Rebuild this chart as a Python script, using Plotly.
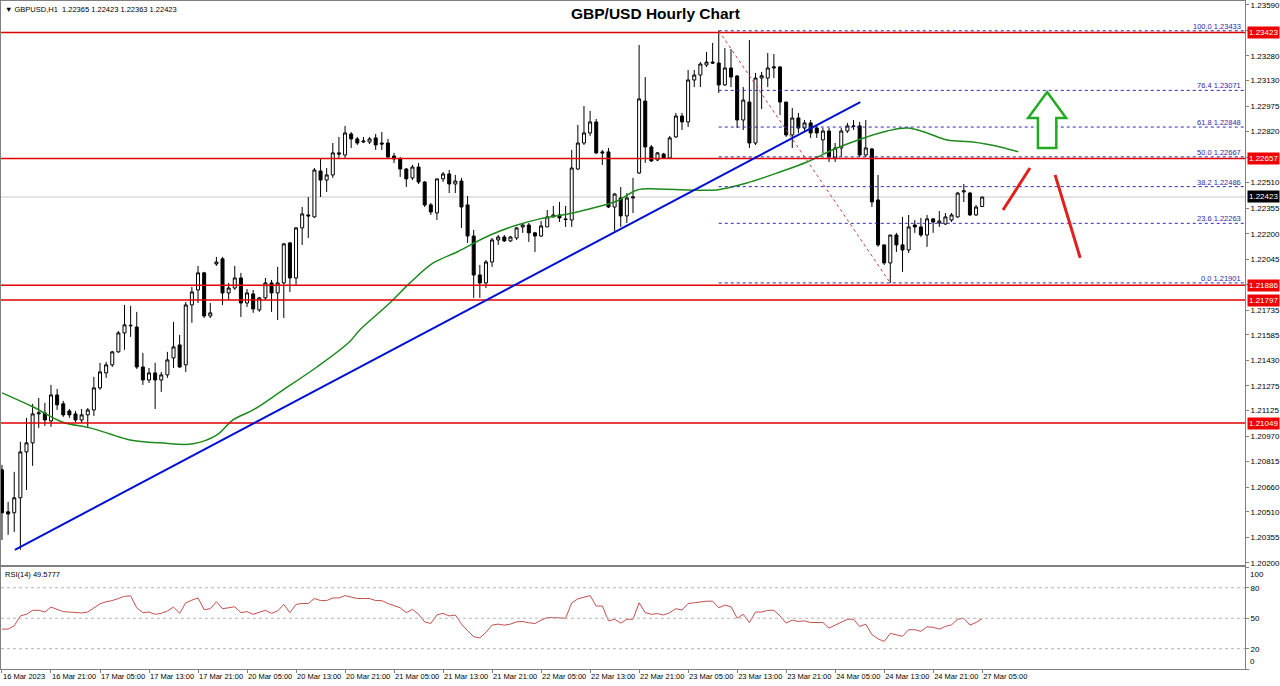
import plotly.graph_objects as go

# ---------------- data ----------------
opens = [1.20765,1.20510,1.20504,1.20595,1.20874,1.20929,1.21105,1.21111,1.21062,1.21220,
1.21166,1.21123,1.21105,1.21068,1.21099,1.21129,1.21263,1.21354,1.21403,1.21482,
1.21597,1.21640,1.21633,1.21390,1.21311,1.21354,1.21311,1.21342,1.21445,1.21524,
1.21403,1.21767,1.21858,1.21962,1.21700,1.22016,1.22047,1.21840,1.21870,1.21931,
1.21779,1.21834,1.21737,1.21810,1.21901,1.21840,1.21901,1.22144,1.21931,1.22235,
1.22314,1.22302,1.22581,1.22526,1.22557,1.22691,1.22678,1.22806,1.22776,1.22757,
1.22757,1.22782,1.22751,1.22751,1.22672,1.22654,1.22593,1.22539,1.22605,1.22514,
1.22375,1.22326,1.22533,1.22563,1.22502,1.22520,1.22375,1.22186,1.21949,1.21901,
1.22028,1.22162,1.22180,1.22156,1.22174,1.22241,1.22253,1.22205,1.22186,1.22241,
1.22302,1.22314,1.22290,1.22283,1.22593,1.22751,1.22812,1.22879,1.22697,1.22697,
1.22362,1.22417,1.22308,1.22417,1.22569,1.23006,1.22727,1.22648,1.22684,1.22660,
1.22788,1.22915,1.22879,1.23134,1.23164,1.23225,1.23243,1.23237,1.23104,1.23207,
1.23158,1.22891,1.23000,1.22751,1.23146,1.23146,1.23207,1.23213,1.23000,1.22800,
1.22903,1.22842,1.22873,1.22842,1.22770,1.22824,1.22660,1.22721,1.22824,1.22855,
1.22855,1.22678,1.22715,1.22405,1.22132,1.22022,1.22192,1.22132,1.22101,1.22253,
1.22241,1.22192,1.22290,1.22265,1.22259,1.22283,1.22302,1.22454,1.22447,1.22314,
1.22365]
highs = [1.20795,1.20570,1.20753,1.20935,1.21081,1.21166,1.21202,1.21172,1.21281,1.21257,
1.21184,1.21135,1.21123,1.21135,1.21141,1.21330,1.21415,1.21421,1.21488,1.21609,
1.21767,1.21761,1.21725,1.21476,1.21384,1.21415,1.21360,1.21482,1.21664,1.21585,
1.21785,1.21876,1.22004,1.21968,1.21779,1.22059,1.22059,1.21901,1.22004,1.21962,
1.21864,1.21858,1.21816,1.21931,1.21919,1.21998,1.22144,1.22150,1.22241,1.22362,
1.22423,1.22599,1.22660,1.22599,1.22751,1.22788,1.22855,1.22818,1.22788,1.22788,
1.22788,1.22806,1.22818,1.22776,1.22691,1.22666,1.22599,1.22618,1.22630,1.22520,
1.22387,1.22533,1.22575,1.22587,1.22557,1.22539,1.22429,1.22223,1.22010,1.22040,
1.22174,1.22192,1.22192,1.22186,1.22241,1.22265,1.22265,1.22211,1.22277,1.22344,
1.22369,1.22393,1.22369,1.22709,1.22861,1.22976,1.22946,1.22897,1.22709,1.22721,
1.22447,1.22484,1.22447,1.22539,1.23347,1.23152,1.22739,1.22697,1.22691,1.22794,
1.22934,1.22934,1.23195,1.23195,1.23243,1.23304,1.23359,1.23433,1.23328,1.23322,
1.23164,1.23091,1.23377,1.23177,1.23183,1.23298,1.23292,1.23219,1.23000,1.22964,
1.22934,1.22891,1.22891,1.22861,1.22842,1.22842,1.22751,1.22842,1.22873,1.22891,
1.22879,1.22891,1.22721,1.22557,1.22132,1.22192,1.22205,1.22302,1.22314,1.22283,
1.22296,1.22314,1.22296,1.22338,1.22326,1.22326,1.22454,1.22502,1.22454,1.22375,
1.22423]
lows = [1.20339,1.20370,1.20388,1.20279,1.20643,1.20789,1.21020,1.21032,1.21026,1.21129,
1.21087,1.21081,1.21056,1.21050,1.21026,1.21093,1.21251,1.21324,1.21390,1.21476,
1.21494,1.21573,1.21378,1.21281,1.21293,1.21135,1.21239,1.21324,1.21384,1.21384,
1.21360,1.21658,1.21779,1.21688,1.21688,1.22004,1.21767,1.21797,1.21858,1.21694,
1.21755,1.21719,1.21725,1.21797,1.21725,1.21676,1.21688,1.21846,1.21889,1.22132,
1.22174,1.22296,1.22423,1.22454,1.22539,1.22660,1.22654,1.22721,1.22739,1.22751,
1.22745,1.22709,1.22709,1.22660,1.22630,1.22545,1.22484,1.22526,1.22502,1.22362,
1.22314,1.22283,1.22514,1.22447,1.22447,1.22235,1.22144,1.21810,1.21810,1.21870,
1.21998,1.22132,1.22150,1.22150,1.22162,1.22205,1.22150,1.22089,1.22180,1.22241,
1.22299,1.22271,1.22241,1.22241,1.22587,1.22739,1.22794,1.22684,1.22618,1.22356,
1.22217,1.22241,1.22265,1.22326,1.22563,1.22630,1.22636,1.22642,1.22654,1.22654,
1.22782,1.22830,1.22848,1.23091,1.23091,1.23213,1.23231,1.23055,1.23098,1.23091,
1.22842,1.22830,1.22721,1.22739,1.22958,1.23091,1.23146,1.22921,1.22788,1.22721,
1.22812,1.22818,1.22782,1.22782,1.22688,1.22636,1.22636,1.22666,1.22812,1.22830,
1.22666,1.22666,1.22362,1.22120,1.22010,1.21901,1.22089,1.21968,1.22083,1.22205,
1.22180,1.22120,1.22205,1.22241,1.22253,1.22271,1.22296,1.22393,1.22308,1.22308,
1.22363]
closes = [1.20504,1.20497,1.20595,1.20874,1.20929,1.21105,1.21111,1.21068,1.21220,1.21160,
1.21099,1.21099,1.21068,1.21099,1.21129,1.21263,1.21360,1.21403,1.21482,1.21597,
1.21646,1.21643,1.21390,1.21311,1.21354,1.21311,1.21342,1.21433,1.21512,1.21390,
1.21767,1.21846,1.21962,1.21700,1.21719,1.22028,1.21840,1.21870,1.21931,1.21779,
1.21840,1.21743,1.21810,1.21901,1.21840,1.21901,1.22138,1.21931,1.22235,1.22320,
1.22308,1.22587,1.22526,1.22557,1.22691,1.22684,1.22812,1.22776,1.22751,1.22763,
1.22776,1.22739,1.22745,1.22666,1.22654,1.22593,1.22533,1.22605,1.22514,1.22375,
1.22332,1.22533,1.22563,1.22502,1.22520,1.22362,1.22186,1.21949,1.21901,1.22028,
1.22162,1.22180,1.22156,1.22180,1.22235,1.22253,1.22205,1.22186,1.22247,1.22302,
1.22314,1.22296,1.22286,1.22599,1.22751,1.22812,1.22879,1.22691,1.22691,1.22362,
1.22441,1.22308,1.22417,1.22423,1.23019,1.22727,1.22642,1.22691,1.22660,1.22782,
1.22915,1.22879,1.23134,1.23164,1.23231,1.23243,1.23237,1.23104,1.23207,1.23152,
1.22891,1.23012,1.22751,1.23146,1.23160,1.23207,1.23213,1.23000,1.22800,1.22903,
1.22842,1.22873,1.22812,1.22812,1.22824,1.22666,1.22721,1.22824,1.22855,1.22852,
1.22678,1.22721,1.22393,1.22132,1.22022,1.22192,1.22132,1.22101,1.22241,1.22241,
1.22192,1.22290,1.22271,1.22277,1.22302,1.22314,1.22447,1.22460,1.22314,1.22362,
1.22423]

rsi = [39.3,39.3,42.6,52.3,53.9,57.8,57.8,56.1,61.0,58.7,
56.5,56.1,55.5,55.2,56.1,60.3,64.2,66.2,67.4,69.4,
71.6,72.0,60.3,55.5,56.1,53.9,54.8,57.1,61.0,54.8,
65.2,67.8,70.0,58.4,59.4,66.2,59.4,60.3,61.3,55.5,
56.5,53.9,55.5,57.8,54.8,57.1,63.6,55.5,63.6,64.5,
64.5,69.4,67.4,67.4,70.0,70.0,72.3,71.0,69.4,69.4,
69.4,67.4,67.4,64.5,62.6,60.3,55.5,58.7,53.9,46.4,
44.8,53.2,54.8,52.3,53.2,44.2,37.7,31.9,30.6,36.1,
43.2,44.2,43.2,44.2,46.4,46.8,45.5,44.8,48.1,50.6,
50.6,50.3,50.0,65.2,69.1,70.7,72.3,62.0,62.0,47.4,
49.0,45.2,49.0,49.0,65.2,
55.5,53.9,54.5,53.2,55.5,59.4,58.1,64.5,65.2,66.2,
66.8,66.8,60.3,62.9,61.3,50.0,53.9,45.8,56.1,56.1,
57.8,57.8,52.3,45.2,48.1,46.8,47.4,45.8,45.8,45.8,
40.3,43.2,46.8,49.0,49.0,41.9,44.2,33.9,29.7,27.1,
35.1,33.9,32.2,38.7,38.7,37.1,41.6,41.0,39.3,41.9,
43.5,49.0,50.0,43.2,45.8,49.58]

# moving average, bar position / price
ma_bar = [0,5.1,9.8,14.4,17.6,20.9,25.8,31.2,35.1,37.7,41.0,45.9,51.4,56.7,58.4,63.3,66.6,70.4,
          74.3,79.7,84.1,87.8,93.2,97.1,100.4,103.7,106.9,112.3,116.7,121.6,127.0,131.4,136.3,
          141.2,144.5,147.8,151.0,154.3,158.5,162.9,165.9]
ma_val = [1.21233,1.21147,1.21056,1.21020,1.20983,1.20947,1.20929,1.20923,1.20977,1.21068,
          1.21129,1.21251,1.21390,1.21542,1.21615,1.21779,1.21901,1.22022,1.22089,1.22192,
          1.22253,1.22290,1.22326,1.22362,1.22399,1.22466,1.22472,1.22466,1.22466,1.22508,
          1.22575,1.22636,1.22721,1.22788,1.22824,1.22842,1.22812,1.22769,1.22757,1.22727,
          1.22697]

time_ticks = [0,8,16,24,32,40,48,56,64,72,80,88,96,104,112,120,128,136,144,152,160]
time_labels = ["16 Mar 2023","16 Mar 21:00","17 Mar 05:00","17 Mar 13:00","17 Mar 21:00",
               "20 Mar 05:00","20 Mar 13:00","20 Mar 21:00","21 Mar 05:00","21 Mar 13:00",
               "21 Mar 21:00","22 Mar 05:00","22 Mar 13:00","22 Mar 21:00","23 Mar 05:00",
               "23 Mar 13:00","23 Mar 21:00","24 Mar 05:00","24 Mar 13:00","24 Mar 21:00",
               "27 Mar 05:00"]

price_ticks = [1.23590,1.23435,1.23280,1.23130,1.22975,1.22820,1.22665,1.22510,1.22355,1.22200,
               1.22045,1.21890,1.21735,1.21585,1.21430,1.21275,1.21125,1.20970,1.20815,1.20660,
               1.20510,1.20355,1.20200]
price_tick_text = ["1.23590","","1.23280","1.23130","1.22975","1.22820","","1.22510","1.22355","1.22200",
                   "1.22045","","1.21735","1.21585","1.21430","1.21275","1.21125","1.20970","1.20815",
                   "1.20660","1.20510","1.20355","1.20200"]

red_levels = [1.23423, 1.22657, 1.21886, 1.21797, 1.21049]
last_price = 1.22423

fib_ratios = ["100.0","76.4","61.8","50.0","38.2","23.6","0.0"]
fib_prices = [1.23433, 1.23071, 1.22848, 1.22667, 1.22486, 1.22263, 1.21901]
fib_start_bar = 117
fib_end_bar = 145

trend_bars = [2.1, 140.1]
trend_prices = [1.20279, 1.23000]

rsi_ticks = [0, 20, 50, 80, 100]
rsi_tick_text = ["", "20", "50", "80", ""]
rsi_levels = [20, 50, 80]

# drawings (bar position, price)
arrow_pts = [(170.6,1.23061),(173.7,1.22903),(172.1,1.22903),(172.1,1.22721),
             (169.1,1.22721),(169.1,1.22903),(167.5,1.22903)]
red_stroke1 = [(163.4,1.22344),(167.8,1.22599)]
red_stroke2 = [(171.9,1.22557),(176.0,1.22053)]

# ---------------- figure ----------------
bars = list(range(len(opens)))
FONT = "Liberation Sans"
AX = "#808080"

fig = go.Figure()
fig.add_trace(go.Candlestick(
    x=bars, open=opens, high=highs, low=lows, close=closes,
    increasing=dict(line=dict(color="black", width=1), fillcolor="white"),
    decreasing=dict(line=dict(color="black", width=1), fillcolor="black"),
    whiskerwidth=0, showlegend=False, hoverinfo="skip", xaxis="x", yaxis="y"))
fig.add_trace(go.Scatter(x=ma_bar, y=ma_val, mode="lines",
    line=dict(color="#1e8a1e", width=1.5, shape="spline"), showlegend=False,
    hoverinfo="skip", xaxis="x", yaxis="y"))
fig.add_trace(go.Scatter(x=bars, y=rsi, mode="lines",
    line=dict(color="#c0504d", width=1), showlegend=False, hoverinfo="skip",
    xaxis="x2", yaxis="y2"))

shapes = []
shapes.append(dict(type="line", xref="paper", x0=0, x1=1, yref="y", y0=last_price, y1=last_price,
                   line=dict(color="#c8c8c8", width=1), layer="below"))
for p in fib_prices:
    shapes.append(dict(type="line", xref="x", x0=fib_start_bar, x1=203, yref="y", y0=p, y1=p,
                       line=dict(color="#2a2aa8", width=1, dash="dot")))
for lv in red_levels:
    shapes.append(dict(type="line", xref="paper", x0=0, x1=1, yref="y", y0=lv, y1=lv,
                       line=dict(color="#e00000", width=1.5)))
shapes.append(dict(type="line", xref="x", yref="y", x0=fib_start_bar, y0=fib_prices[0],
                   x1=fib_end_bar, y1=fib_prices[-1], line=dict(color="#c04040", width=1, dash="dot")))
shapes.append(dict(type="line", xref="x", yref="y", x0=trend_bars[0], y0=trend_prices[0],
                   x1=trend_bars[1], y1=trend_prices[1], line=dict(color="#0010d0", width=2)))
for lv in rsi_levels:
    shapes.append(dict(type="line", xref="paper", x0=0, x1=1, yref="y2", y0=lv, y1=lv,
                       line=dict(color="#b4b4b4", width=1, dash="dot")))
path = "M " + " L ".join(f"{x},{y}" for x, y in arrow_pts) + " Z"
shapes.append(dict(type="path", xref="x", yref="y", path=path,
                   line=dict(color="#22aa22", width=2.5), fillcolor="white"))
for s in (red_stroke1, red_stroke2):
    shapes.append(dict(type="line", xref="x", yref="y", x0=s[0][0], y0=s[0][1], x1=s[1][0], y1=s[1][1],
                       line=dict(color="#e0201c", width=3)))

annotations = []
annotations.append(dict(text="<b>GBP/USD Hourly Chart</b>", xref="paper", yref="paper",
                        x=0.526, y=1.0, xanchor="center", yanchor="top", yshift=-2, showarrow=False,
                        font=dict(family=FONT, size=15.5, color="black")))
annotations.append(dict(text="▼ GBPUSD,H1  1.22365 1.22423 1.22363 1.22423", xref="paper", yref="paper",
                        x=0.002, y=1.0, xanchor="left", yanchor="top", yshift=-2, showarrow=False,
                        font=dict(family=FONT, size=7.5, color="black")))
annotations.append(dict(text="RSI(14) 49.5777", xref="paper", yref="y2", x=0.002, y=100,
                        xanchor="left", yanchor="top", yshift=-1, showarrow=False,
                        font=dict(family=FONT, size=7.5, color="black")))
# RSI scale end labels placed just inside the panel, as in the terminal
annotations.append(dict(text="100", xref="paper", yref="y2", x=1.0, y=100, xanchor="left",
                        yanchor="top", xshift=3, yshift=-1, showarrow=False,
                        font=dict(family=FONT, size=8, color="black")))
annotations.append(dict(text="0", xref="paper", yref="y2", x=1.0, y=0, xanchor="left",
                        yanchor="bottom", xshift=3, yshift=1, showarrow=False,
                        font=dict(family=FONT, size=8, color="black")))
for r, p in zip(fib_ratios, fib_prices):
    annotations.append(dict(text=f"{r} {p:.5f}", xref="paper", yref="y", x=0.9985, y=p,
                            xanchor="right", yanchor="bottom", showarrow=False, yshift=-2,
                            font=dict(family=FONT, size=7.5, color="#2a2aa8")))
for lv in red_levels:
    annotations.append(dict(text=f"{lv:.5f}", xref="paper", yref="y", x=1.0, y=lv, xanchor="left",
                            yanchor="middle", xshift=2, showarrow=False, bgcolor="#ee0000",
                            borderpad=1, font=dict(family=FONT, size=8, color="white")))
annotations.append(dict(text=f"{last_price:.5f}", xref="paper", yref="y", x=1.0, y=last_price,
                        xanchor="left", yanchor="middle", xshift=2, showarrow=False, bgcolor="black",
                        borderpad=1, font=dict(family=FONT, size=8, color="white")))

fig.update_layout(
    width=1280, height=686, margin=dict(l=1, r=35, t=1, b=17, autoexpand=False),
    paper_bgcolor="white", plot_bgcolor="white", showlegend=False,
    shapes=shapes, annotations=annotations,
    xaxis=dict(domain=[0, 1], range=[-0.16, 202.9], anchor="y", showticklabels=False,
               showgrid=False, zeroline=False, showline=True, mirror=True, linecolor=AX, linewidth=1,
               rangeslider=dict(visible=False), ticks="", automargin=False),
    xaxis2=dict(domain=[0, 1], range=[-0.16, 202.9], anchor="y2", matches="x",
                tickmode="array", tickvals=time_ticks, ticktext=time_labels, tickangle=0,
                ticks="outside", ticklen=3, tickcolor=AX, ticklabelposition="outside right",
                tickfont=dict(family=FONT, size=7.5, color="black"), automargin=False,
                showgrid=False, zeroline=False, showline=True, mirror=True, linecolor=AX, linewidth=1),
    yaxis=dict(domain=[0.156, 1], range=[1.20188, 1.23614], side="right", anchor="x",
               tickmode="array", tickvals=price_ticks, ticktext=price_tick_text,
               ticks="outside", ticklen=3, tickcolor=AX, automargin=False,
               tickfont=dict(family=FONT, size=8, color="black"),
               showgrid=False, zeroline=False, showline=True, mirror=True, linecolor=AX, linewidth=1),
    yaxis2=dict(domain=[0, 0.152], range=[0, 100], side="right", anchor="x2",
                tickmode="array", tickvals=rsi_ticks, ticktext=rsi_tick_text, automargin=False,
                ticks="outside", ticklen=3, tickcolor=AX,
                tickfont=dict(family=FONT, size=8, color="black"),
                showgrid=False, zeroline=False, showline=True, mirror=True, linecolor=AX, linewidth=1),
)

fig.write_html("out.html", config={"displayModeBar": False},
               post_script="document.body.style.margin='0';document.body.style.overflow='hidden';")
